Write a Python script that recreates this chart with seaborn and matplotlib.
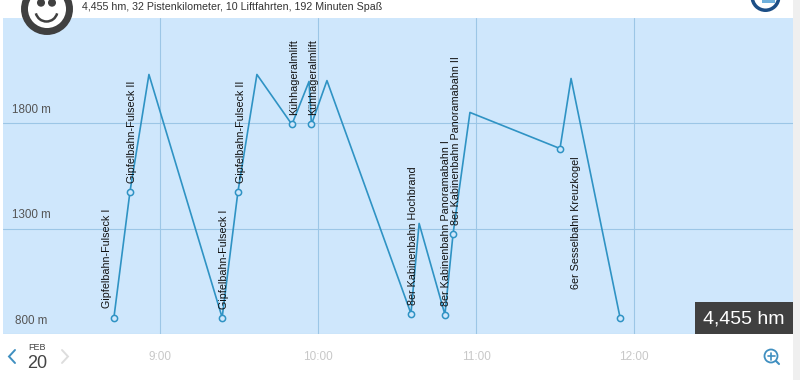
import matplotlib
matplotlib.use("Agg")
import matplotlib.pyplot as plt
from matplotlib.patches import Circle, Rectangle, Wedge, Arc
from matplotlib.ticker import FuncFormatter
import pandas as pd
import seaborn as sns

# Time in minutes after 8:00, altitude in metres
minutes = [42.5, 48.6, 55.8, 83.6, 89.6, 96.8, 110.1, 116.6, 117.5, 123.4,
           155.3, 158.4, 168.2, 171.3, 177.7, 211.9, 216.1, 234.7]
altitude = [878, 1475, 2030, 878, 1475, 2030, 1793, 1997, 1793, 2001,
            897, 1324, 892, 1276, 1850, 1679, 2011, 878]
lift_minutes = [42.5, 48.6, 83.6, 89.6, 110.1, 117.5, 155.3, 168.2, 171.3, 211.9, 234.7]
lift_altitude = [878, 1475, 878, 1475, 1793, 1793, 897, 892, 1276, 1679, 878]
lift_names = ["Gipfelbahn-Fulseck I", "Gipfelbahn-Fulseck II", "Gipfelbahn-Fulseck I",
              "Gipfelbahn-Fulseck II", "Kühhageralmlift", "Kühhageralmlift",
              "8er Kabinenbahn Hochbrand", "8er Kabinenbahn Panoramabahn I",
              "8er Kabinenbahn Panoramabahn II", "6er Sesselbahn Kreuzkogel"]
y_ticks = [800, 1300, 1800]
hour_ticks = [60, 120, 180, 240]
hour_labels = ["9:00", "10:00", "11:00", "12:00"]
title_text = "4,455 hm, 32 Pistenkilometer, 10 Liftfahrten, 192 Minuten Spaß"
total_text = "4,455 hm"

BG = "#cfe7fc"
GRID = "#9cc6e6"
LINE = "#2f93c4"
DARK = "#404040"
W, H = 800, 380

sns.set_theme(style="white")
plt.rcParams["font.family"] = ["Liberation Sans", "DejaVu Sans"]

fig = plt.figure(figsize=(8, 3.8), dpi=100, facecolor="white")

# Chart area: pixels x 3..793, y 18..334
ax = fig.add_axes([3 / W, 1 - 334 / H, 790 / W, 316 / H], facecolor=BG)
px_min = 60 / 158          # minutes per pixel
ax.set_xlim(60 + (3 - 160) * px_min, 60 + (793 - 160) * px_min)
m_px = 500 / 105.5         # metres per pixel
ax.set_ylim(1800 - (334 - 123) * m_px, 1800 + (123 - 18) * m_px)

ax.set_axisbelow(True)
ax.grid(True, color=GRID, linewidth=0.8)
ax.set_yticks(y_ticks)
ax.set_xticks(hour_ticks)
ax.xaxis.set_major_formatter(FuncFormatter(lambda v, _: hour_labels[hour_ticks.index(int(v))] if int(v) in hour_ticks else ""))
ax.tick_params(axis="x", length=0, pad=12.5, labelsize=8.5, labelcolor="#c8c8c8")
ax.tick_params(axis="y", length=0, labelleft=False)
for s in ax.spines.values():
    s.set_visible(False)

track = pd.DataFrame({"t": minutes, "alt": altitude, "i": range(len(minutes))})
lifts = pd.DataFrame({"t": lift_minutes, "alt": lift_altitude})
sns.lineplot(data=track, x="t", y="alt", sort=False, estimator=None, units=None,
             color=LINE, linewidth=1.2, ax=ax, legend=False, zorder=3)
sns.scatterplot(data=lifts, x="t", y="alt", s=20, facecolor=BG, edgecolor=LINE,
                linewidth=1.1, ax=ax, legend=False, zorder=4)
ax.set_xlabel("")
ax.set_ylabel("")

# Lift names: (dx, dy) pixel offset of the text's bottom-centre from its marker
label_offsets = [(-6.5, 10), (2, 9), (2, 9), (3, 9), (2, 9), (2, 9),
                 (2, 9), (1.5, 9), (3, 9), (15.5, -140)]
for name, tx, ty, (dx, dy) in zip(lift_names, lift_minutes, lift_altitude, label_offsets):
    ax.annotate(name, (tx, ty), xytext=(dx * 0.72, dy * 0.72), textcoords="offset points",
                rotation=90, ha="center", va="bottom", fontsize=7.75, color="#111111", zorder=5)

for v in y_ticks:
    ax.annotate(f"{v} m", (28.5 / 790, v), xycoords=ax.get_yaxis_transform(),
                xytext=(0, 9.5), textcoords="offset points", ha="center", va="center",
                fontsize=8.4, color="#555555")

# Overlay in pixel coordinates for the surrounding interface
ov = fig.add_axes([0, 0, 1, 1], facecolor="none")
ov.set_xlim(0, W)
ov.set_ylim(H, 0)
ov.axis("off")
ov.add_patch(Rectangle((793, 0), 7, H, color="#efefef", lw=0))
# Smiley
ov.add_patch(Circle((47, 9), 22.5, facecolor="white", edgecolor=DARK, linewidth=5, zorder=6))
ov.add_patch(Circle((41, 2.7), 3.3, color=DARK, zorder=7))
ov.add_patch(Circle((52, 2.7), 3.3, color=DARK, zorder=7))
ov.add_patch(Arc((46.5, 10.5), 22, 22, theta1=15, theta2=165, color=DARK, lw=1.8, zorder=7))
ov.text(82, 6.5, title_text, fontsize=7.7, color="#333333", va="center", ha="left")
# Logo fragment
ov.add_patch(Wedge((765.5, -3), 15, 0, 180, width=3.5, facecolor="#1c4e86", lw=0, zorder=6))
ov.add_patch(Rectangle((762, 0), 13, 3, color="#6fb0dc", lw=0))
# Total box
ov.add_patch(Rectangle((695, 302), 98, 32, color=DARK, lw=0, zorder=6))
ov.text(743.5, 318.5, total_text, color="white", fontsize=14, ha="center", va="center", zorder=7)
# Date control
ov.plot([15, 9, 15], [350, 356.5, 363], color="#3f8fc0", lw=1.4, solid_joinstyle="miter")
ov.plot([62, 68, 62], [350, 356.5, 363], color="#dddddd", lw=1.4, solid_joinstyle="miter")
ov.text(37, 348, "FEB", fontsize=6.5, color="#444444", ha="center", va="center")
ov.text(37, 363, "20", fontsize=13, color="#444444", ha="center", va="center")
# Zoom icon
ov.add_patch(Circle((771, 356), 6.5, facecolor="none", edgecolor="#3f8fc0", lw=1.3))
ov.plot([767.5, 774.5], [356, 356], color="#3f8fc0", lw=1.2)
ov.plot([771, 771], [352.5, 359.5], color="#3f8fc0", lw=1.2)
ov.plot([776, 779], [361, 364], color="#3f8fc0", lw=1.5)

fig.savefig("out.png", dpi=100)
